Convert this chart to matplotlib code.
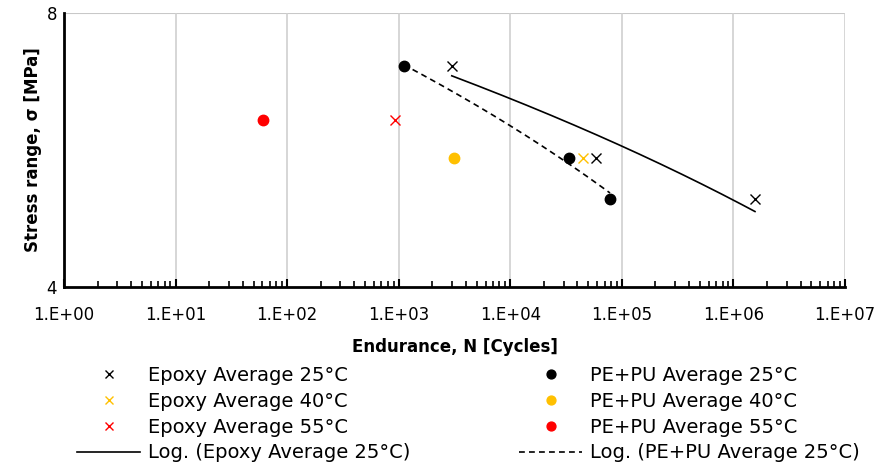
import numpy as np
import matplotlib
matplotlib.use("Agg")
import matplotlib.pyplot as plt
from matplotlib.ticker import FixedLocator, LogLocator, NullFormatter, FuncFormatter

plt.rcParams['font.family'] = ['DejaVu Sans']

# Fatigue test averages: endurance N [cycles] vs stress range [MPa]
epoxy25_n = [2990, 58200, 1.56e6]
epoxy25_s = [7.0, 5.55, 5.0]
epoxy40_n = [44600]
epoxy40_s = [5.55]
epoxy55_n = [926]
epoxy55_s = [6.1]

pepu25_n = [1110, 33800, 78300]
pepu25_s = [7.0, 5.55, 5.0]
pepu40_n = [3150]
pepu40_s = [5.55]
pepu55_n = [61]
pepu55_s = [6.1]

x_ticks = [1e0, 1e1, 1e2, 1e3, 1e4, 1e5, 1e6, 1e7]
y_ticks = [4, 8]

ORANGE = '#FFC000'
RED = '#FF0000'


def log_trend(n, s):
    # logarithmic trendline s = a*ln(N) + b over the data range
    a, b = np.polyfit(np.log(n), s, 1)
    xx = np.logspace(np.log10(min(n)), np.log10(max(n)), 200)
    return xx, a * np.log(xx) + b


fig = plt.figure(figsize=(8.77, 4.69), dpi=100)
ax = fig.add_axes([64 / 877, 1 - 287 / 469, (845 - 64) / 877, (287 - 13) / 469])

mx = dict(marker='x', linestyle='none', markersize=7, markeredgewidth=1.0)
dot = dict(marker='o', linestyle='none', markersize=7.5)

h1, = ax.plot(epoxy25_n, epoxy25_s, color='black', label='Epoxy Average 25°C', **mx)
h2, = ax.plot(epoxy40_n, epoxy40_s, color=ORANGE, label='Epoxy Average 40°C', **mx)
h3, = ax.plot(epoxy55_n, epoxy55_s, color=RED, label='Epoxy Average 55°C', **mx)
tx, ty = log_trend(epoxy25_n, epoxy25_s)
h4, = ax.plot(tx, ty, color='black', lw=1.2, label='Log. (Epoxy Average 25°C)')

h5, = ax.plot(pepu25_n, pepu25_s, color='black', label='PE+PU Average 25°C', **dot)
h6, = ax.plot(pepu40_n, pepu40_s, color=ORANGE, label='PE+PU Average 40°C', **dot)
h7, = ax.plot(pepu55_n, pepu55_s, color=RED, label='PE+PU Average 55°C', **dot)
tx, ty = log_trend(pepu25_n, pepu25_s)
h8, = ax.plot(tx, ty, color='black', lw=1.2, ls=(0, (3.5, 2.5)), label='Log. (PE+PU Average 25°C)')

ax.set_xscale('log')
ax.set_yscale('log', base=2)
ax.set_xlim(1, 1e7)
ax.set_ylim(4, 8)

ax.xaxis.set_major_locator(FixedLocator(x_ticks))
ax.xaxis.set_minor_locator(LogLocator(base=10, subs=np.arange(2, 10), numticks=20))
ax.xaxis.set_minor_formatter(NullFormatter())
ax.xaxis.set_major_formatter(FuncFormatter(lambda v, p: '1.E+%02d' % round(np.log10(v))))
ax.yaxis.set_major_locator(FixedLocator(y_ticks))
ax.yaxis.set_minor_locator(FixedLocator([]))
ax.yaxis.set_major_formatter(FuncFormatter(lambda v, p: '%d' % v))

ax.grid(True, which='major', axis='x', color='#d0d0d0', lw=1.2)
ax.axhline(8, color='#c8c8c8', lw=1.5, zorder=0)
for side in ['top', 'right']:
    ax.spines[side].set_visible(False)
for side in ['left', 'bottom']:
    ax.spines[side].set_linewidth(2)
ax.set_axisbelow(True)

ax.tick_params(axis='x', which='major', direction='in', length=6, width=1.5,
               labelsize=12, pad=14, colors='black')
ax.tick_params(axis='x', which='minor', direction='in', length=4, width=1.2)
ax.tick_params(axis='y', which='major', length=0, labelsize=12, pad=5)

ax.set_xlabel('Endurance, N [Cycles]', fontsize=12, fontweight='bold', labelpad=10)
ax.set_ylabel('Stress range, σ [MPa]', fontsize=12, fontweight='bold', labelpad=14)
ax.yaxis.set_label_coords(-22 / 781, 0.5)

fig.legend(handles=[h1, h2, h3, h4, h5, h6, h7, h8], ncol=2, frameon=False,
           loc='upper left', bbox_to_anchor=(77 / 877, 1 - 366 / 469),
           fontsize=14, handlelength=3.25, columnspacing=5.6, markerscale=0.85,
           labelspacing=0.35, handletextpad=0.4, borderaxespad=0, borderpad=0)

fig.savefig('out.png', dpi=100)
